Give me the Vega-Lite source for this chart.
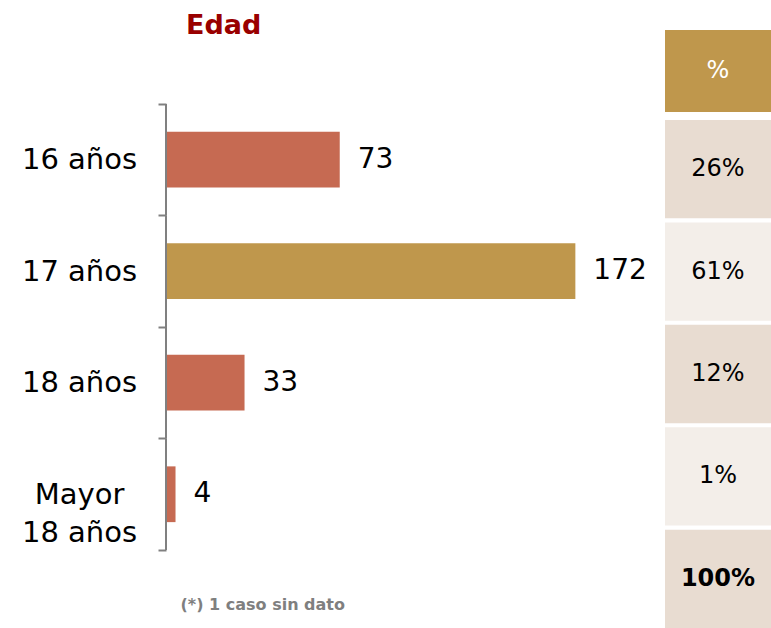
{
  "$schema": "https://vega.github.io/schema/vega-lite/v6.json",
  "padding": {"left": 0, "top": 12, "right": 0, "bottom": 0},
  "background": "white",
  "config": {"view": {"stroke": null}, "font": "DejaVu Sans"},
  "spacing": 18,
  "resolve": {"scale": {"x": "independent", "y": "independent", "color": "independent"}},
  "hconcat": [
    {
      "width": 476,
      "height": 520,
      "title": {"text": "Edad", "anchor": "start", "frame": "group", "dx": 20, "offset": -24, "fontSize": 27, "font": "DejaVu Sans", "fontWeight": "bold", "color": "#990000"},
      "data": {"values": [
        {"edad": "16 años", "n": 73, "grupo": "otro"},
        {"edad": "17 años", "n": 172, "grupo": "mayoritario"},
        {"edad": "18 años", "n": 33, "grupo": "otro"},
        {"edad": "Mayor 18 años", "n": 4, "grupo": "otro"}
      ]},
      "encoding": {
        "y": {"field": "edad", "type": "nominal", "sort": null,
          "scale": {"paddingInner": 0, "paddingOuter": 0.3318, "align": 1},
          "axis": {"title": null, "domain": false, "tickColor": "#808080", "tickWidth": 2, "tickSize": 8, "tickBand": "extent",
            "labelFont": "DejaVu Sans", "labelFontSize": 29, "labelColor": "#000000", "labelPadding": 79, "labelAlign": "center", "labelLineHeight": 38,
            "labelExpr": "datum.label == 'Mayor 18 años' ? ['Mayor', '18 años'] : datum.label",
            "minExtent": 166, "maxExtent": 166}},
        "x": {"field": "n", "type": "quantitative", "scale": {"domain": [0, 200], "nice": false},
          "axis": {"domain": false, "ticks": false, "labels": false, "grid": false, "title": "(*) 1 caso sin dato",
            "titleFont": "DejaVu Sans", "titleFontWeight": "bold", "titleColor": "#7F7F7F", "titleFontSize": 16,
            "titleAnchor": "start", "titleAlign": "left", "titleX": 14, "titlePadding": 46}}
      },
      "layer": [
        {"mark": {"type": "bar", "height": {"band": 0.5}},
         "encoding": {"color": {"field": "grupo", "type": "nominal", "legend": null,
           "scale": {"domain": ["otro", "mayoritario"], "range": ["#C66A52", "#BF974C"]}}}},
        {"mark": {"type": "rule", "color": "#808080", "strokeWidth": 2},
         "encoding": {"x": {"datum": 0},
           "y": {"field": "edad", "type": "nominal", "sort": null, "bandPosition": 0},
           "y2": {"field": "edad", "bandPosition": 1}}},
        {"mark": {"type": "text", "align": "left", "baseline": "middle", "dx": 18, "fontSize": 28, "font": "DejaVu Sans", "color": "#000000"},
         "encoding": {"text": {"field": "n", "type": "quantitative"}}}
      ]
    },
    {
      "spacing": 8,
      "resolve": {"scale": {"y": "independent", "color": "independent"}},
      "vconcat": [
        {
          "width": 106,
          "height": 82,
          "data": {"values": [{"col": "%"}]},
          "encoding": {"y": {"field": "col", "type": "nominal", "axis": null,
            "scale": {"paddingInner": 0, "paddingOuter": 0}}},
          "layer": [
            {"mark": {"type": "rect", "color": "#BF974C"}},
            {"mark": {"type": "text", "fontSize": 24, "font": "DejaVu Sans", "color": "#FFFFFF", "baseline": "middle"},
             "encoding": {"text": {"field": "col"}}}
          ]
        },
        {
          "width": 106,
          "height": 508,
          "data": {"values": [
            {"pct": "26%", "tono": "oscuro", "total": false},
            {"pct": "61%", "tono": "claro", "total": false},
            {"pct": "12%", "tono": "oscuro", "total": false},
            {"pct": "1%", "tono": "claro", "total": false},
            {"pct": "100%", "tono": "oscuro", "total": true}
          ]},
          "encoding": {"y": {"field": "pct", "type": "nominal", "sort": null, "axis": null,
            "scale": {"paddingInner": 0.04, "paddingOuter": 0}}},
          "layer": [
            {"mark": {"type": "rect"},
             "encoding": {"color": {"field": "tono", "type": "nominal", "legend": null,
               "scale": {"domain": ["oscuro", "claro"], "range": ["#E8DCD1", "#F3EEE9"]}}}},
            {"transform": [{"filter": "!datum.total"}],
             "mark": {"type": "text", "fontSize": 24, "font": "DejaVu Sans", "color": "#000000", "baseline": "middle"},
             "encoding": {"text": {"field": "pct"}}},
            {"transform": [{"filter": "datum.total"}],
             "mark": {"type": "text", "fontSize": 24, "font": "DejaVu Sans", "fontWeight": "bold", "color": "#000000", "baseline": "middle"},
             "encoding": {"text": {"field": "pct"}}}
          ]
        }
      ]
    }
  ]
}
